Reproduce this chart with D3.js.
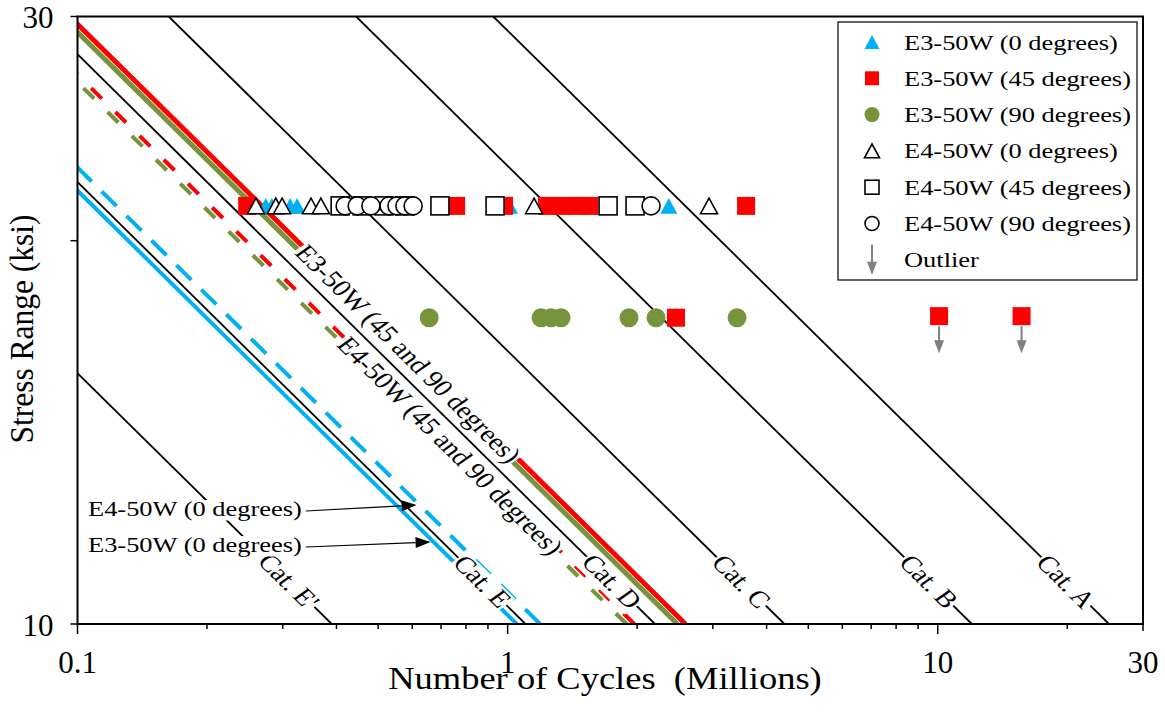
<!DOCTYPE html>
<html>
<head>
<meta charset="utf-8">
<script src="https://cdn.jsdelivr.net/npm/d3@7"></script>
<style>
  html, body { margin: 0; padding: 0; background: #fff; }
  svg { display: block; font-family: "Liberation Serif", "Times New Roman", serif; }
  text { fill: #000; }
</style>
</head>
<body>
<svg id="chart" width="1165" height="717"></svg>
<script>
// ---------------------------------------------------------------------------
// AASHTO detail categories: life (millions of cycles) at a 10 ksi stress range
const categoryNames = ["Cat. A", "Cat. B", "Cat. C", "Cat. D", "Cat. E", "Cat. E'"];
const categoryLife10 = [25, 12, 4.4, 2.2, 1.1, 0.39];
const categoryLabelStress = 10.8;

// Fitted S-N curves of the specimen groups: life (millions) at 10 ksi
const fitNames = ["E3-50W (0 degrees)", "E4-50W (0 degrees)", "E3-50W (45 degrees)",
                  "E3-50W (90 degrees)", "E4-50W (45 degrees)", "E4-50W (90 degrees)"];
const fitLife10 = [1.05, 1.19, 2.59, 2.48, 1.97, 1.89];

// Labels written along the fitted curves
const fitLabels = ["E3-50W (45 and 90 degrees)", "E4-50W (45 and 90 degrees)"];
const fitLabelLife10 = [2.54, 1.93];
const fitLabelStress = [16.3, 13.8];

// Call-outs for the 0-degree curves
const calloutLabels = ["E4-50W (0 degrees)", "E3-50W (0 degrees)"];
const calloutLife10 = [1.19, 1.05];
const calloutStress = [12.4, 11.6];

// Test results: cycles to failure (millions) and stress range (ksi)
const e3d0Cycles  = [0.274, 0.283, 0.312, 0.324, 1.01, 2.37];
const e3d0Stress  = [21.3, 21.3, 21.3, 21.3, 21.3, 21.3];
const e3d45Cycles = [0.248, 0.759, 0.981, 1.235, 1.338, 1.45, 1.547, 3.584, 2.463, 10.07, 15.66];
const e3d45Stress = [21.3, 21.3, 21.3, 21.3, 21.3, 21.3, 21.3, 21.3, 17.4, 17.45, 17.45];
const e3d45Outlier = [false, false, false, false, false, false, false, false, false, true, true];
const e3d90Cycles = [0.657, 1.196, 1.262, 1.331, 1.915, 2.213, 3.415];
const e3d90Stress = [17.4, 17.4, 17.4, 17.4, 17.4, 17.4, 17.4];
const e4d0Cycles  = [0.26, 0.289, 0.299, 0.349, 0.368, 1.152, 2.939];
const e4d0Stress  = [21.3, 21.3, 21.3, 21.3, 21.3, 21.3, 21.3];
const e4d45Cycles = [0.408, 0.459, 0.516, 0.577, 0.696, 0.935, 1.712, 1.978];
const e4d45Stress = [21.3, 21.3, 21.3, 21.3, 21.3, 21.3, 21.3, 21.3];
const e4d90Cycles = [0.419, 0.447, 0.481, 0.53, 0.553, 0.577, 0.603, 2.155];
const e4d90Stress = [21.3, 21.3, 21.3, 21.3, 21.3, 21.3, 21.3, 21.3];

// Axis ticks
const xMajorTicks = [0.1, 1, 10];
const xMinorTicks = [0.2, 0.3, 0.4, 0.5, 0.6, 0.7, 0.8, 0.9, 2, 3, 4, 5, 6, 7, 8, 9, 20, 30];
const xTickLabels = [0.1, 1, 10, 30];
const yTicks = [10, 20, 30];
const yTickLabels = [10, 30];

const legendLabels = ["E3-50W (0 degrees)", "E3-50W (45 degrees)", "E3-50W (90 degrees)",
                      "E4-50W (0 degrees)", "E4-50W (45 degrees)", "E4-50W (90 degrees)", "Outlier"];
// ---------------------------------------------------------------------------

const BLUE = "#00b0f0", RED = "#ff0000", GREEN = "#77933c", GREY = "#808080";

const svg = d3.select("#chart");
const x = d3.scaleLog().domain([0.1, 30]).range([77.5, 1143]);
const y = d3.scaleLog().domain([10, 30]).range([624, 16.5]);
const [x0, x1] = x.range();
const [yb, yt] = y.range();

svg.append("defs").append("clipPath").attr("id", "plotClip")
  .append("rect").attr("x", x0).attr("y", yt).attr("width", x1 - x0).attr("height", yb - yt);

// Slope -3 S-N line: two end points at 10 and 30 ksi
function snEnds(life10) {
  return [[life10, 10], [life10 / 27, 30]];
}
function lifeAt(life10, s) { return life10 * Math.pow(10 / s, 3); }

const line = d3.line().x(d => x(d[0])).y(d => y(d[1]));
const plot = svg.append("g").attr("clip-path", "url(#plotClip)");

// Detail category lines
plot.selectAll("path.cat").data(categoryLife10).join("path")
  .attr("class", "cat").attr("d", d => line(snEnds(d)))
  .attr("fill", "none").attr("stroke", "#000").attr("stroke-width", 1.8);

// Fitted curves
const fitStyle = [
  { color: BLUE,  width: 4,   dash: null },
  { color: BLUE,  width: 4,   dash: "21 14" },
  { color: RED,   width: 5,   dash: null },
  { color: GREEN, width: 5,   dash: null },
  { color: RED,   width: 4,   dash: "15 19" },
  { color: GREEN, width: 4,   dash: "15 19" }
];
plot.selectAll("path.fit").data(fitLife10).join("path")
  .attr("class", "fit").attr("d", d => line(snEnds(d)))
  .attr("fill", "none")
  .attr("stroke", (d, i) => fitStyle[i].color)
  .attr("stroke-width", (d, i) => fitStyle[i].width)
  .attr("stroke-dasharray", (d, i) => fitStyle[i].dash);

// Screen angle of a slope -3 line
const pa = [x(1), y(10)], pb = [x(1 / 27), y(30)];
const lineAngle = Math.atan2(pa[1] - pb[1], pa[0] - pb[0]);

// Text drawn with a horizontal stretch; optional white backing box
function stretchedText(parent, o) {
  const sx = o.sx || 1;
  let rot = 0;
  if (o.along) rot = Math.atan(sx * Math.tan(lineAngle)) * 180 / Math.PI;
  if (o.rotate) rot = o.rotate;
  const g = parent.append("g")
    .attr("transform", `translate(${o.x},${o.y}) scale(${sx},1) rotate(${rot})`);
  const t = g.append("text").attr("font-size", o.size)
    .attr("text-anchor", o.anchor || "start")
    .style("white-space", "pre")
    .text(o.text);
  if (o.dy) t.attr("dy", o.dy);
  if (o.box) {
    const b = t.node().getBBox();
    const shift = o.dy ? o.size * parseFloat(o.dy) : 0;
    g.insert("rect", "text")
      .attr("x", b.x - 1).attr("width", b.width + 2)
      .attr("y", shift - 0.74 * o.size).attr("height", 0.95 * o.size)
      .attr("fill", "#fff");
  }
  return g;
}

// Axis frame and ticks
const axes = svg.append("g");
axes.append("rect").attr("x", x0).attr("y", yt).attr("width", x1 - x0).attr("height", yb - yt)
  .attr("fill", "none").attr("stroke", "#000").attr("stroke-width", 2);
axes.selectAll("line.xmaj").data(xMajorTicks).join("line")
  .attr("x1", d => x(d)).attr("x2", d => x(d)).attr("y1", yb).attr("y2", yb + 10)
  .attr("stroke", "#000").attr("stroke-width", 1.5);
axes.selectAll("line.xmin").data(xMinorTicks).join("line")
  .attr("x1", d => x(d)).attr("x2", d => x(d)).attr("y1", yb).attr("y2", d => yb + (d === 30 ? 7 : 5))
  .attr("stroke", "#000").attr("stroke-width", 1.5);
axes.selectAll("line.ytk").data(yTicks).join("line")
  .attr("x1", x0 - 7).attr("x2", x0).attr("y1", d => y(d)).attr("y2", d => y(d))
  .attr("stroke", "#000").attr("stroke-width", 1.5);
axes.selectAll("text.xl").data(xTickLabels).join("text")
  .attr("x", d => x(d)).attr("y", yb + 49).attr("text-anchor", "middle")
  .attr("font-size", 31).text(d => d);
axes.selectAll("text.yl").data(yTickLabels).join("text")
  .attr("x", x0 - 24).attr("y", d => y(d) + 11.5).attr("text-anchor", "end")
  .attr("font-size", 31).text(d => d);

stretchedText(svg, { x: 605, y: 689, sx: 1.14, size: 32, anchor: "middle",
  text: "Number of Cycles  (Millions)" });
stretchedText(svg, { x: 33, y: 329, sx: 1.1, size: 31.5, anchor: "middle", rotate: -90,
  text: "Stress Range (ksi)" });

// Labels along the lines
const labels = svg.append("g");
categoryNames.forEach((name, i) => {
  const n = lifeAt(categoryLife10[i], categoryLabelStress);
  stretchedText(labels, { x: x(n), y: y(categoryLabelStress), sx: 1.2, along: true,
    size: 24, anchor: "middle", dy: "0.33em", text: name, box: true });
});
fitLabels.forEach((name, i) => {
  const n = lifeAt(fitLabelLife10[i], fitLabelStress[i]);
  stretchedText(labels, { x: x(n), y: y(fitLabelStress[i]), sx: 1.2, along: true,
    size: 24, anchor: "middle", dy: "0.33em", text: name, box: true });
});

// Markers
function triPath(w, h) { return `M0,${-h / 2}L${w / 2},${h / 2}L${-w / 2},${h / 2}Z`; }
function drawMarker(g, shape, cx, cy, size, fill, stroke) {
  let m;
  if (shape === "tri") m = g.append("path").attr("d", triPath(size, size * 0.92)).attr("transform", `translate(${cx},${cy})`);
  else if (shape === "sq") m = g.append("rect").attr("x", cx - size / 2).attr("y", cy - size / 2).attr("width", size).attr("height", size);
  else m = g.append("circle").attr("cx", cx).attr("cy", cy).attr("r", size / 2);
  m.attr("fill", fill);
  if (stroke) m.attr("stroke", stroke).attr("stroke-width", 1.6); else m.attr("stroke", "none");
  return m;
}

const series = [
  { cycles: e3d0Cycles,  stress: e3d0Stress,  shape: "tri",  fill: BLUE,  stroke: null, size: 17 },
  { cycles: e3d45Cycles, stress: e3d45Stress, shape: "sq",   fill: RED,   stroke: null, size: 18 },
  { cycles: e3d90Cycles, stress: e3d90Stress, shape: "circ", fill: GREEN, stroke: null, size: 19 },
  { cycles: e4d0Cycles,  stress: e4d0Stress,  shape: "tri",  fill: "#fff", stroke: "#000", size: 17 },
  { cycles: e4d45Cycles, stress: e4d45Stress, shape: "sq",   fill: "#fff", stroke: "#000", size: 18 },
  { cycles: e4d90Cycles, stress: e4d90Stress, shape: "circ", fill: "#fff", stroke: "#000", size: 18 }
];
const marks = svg.append("g");
series.forEach(s => {
  s.cycles.forEach((c, i) => drawMarker(marks, s.shape, x(c), y(s.stress[i]), s.size, s.fill, s.stroke));
});

// Outlier arrows
function downArrow(g, cx, top, len, head, hw) {
  g.append("line").attr("x1", cx).attr("x2", cx).attr("y1", top).attr("y2", top + len - head + 1)
    .attr("stroke", GREY).attr("stroke-width", 2);
  g.append("path").attr("d", `M${cx - hw / 2},${top + len - head}L${cx + hw / 2},${top + len - head}L${cx},${top + len}Z`)
    .attr("fill", GREY);
}
e3d45Cycles.forEach((c, i) => {
  if (e3d45Outlier[i]) downArrow(marks, x(c), y(e3d45Stress[i]) + 10, 27, 13, 10);
});

// Call-outs for the 0-degree curves
const callouts = svg.append("g");
const calloutTextY = [516, 552];
calloutLabels.forEach((name, i) => {
  const g = stretchedText(callouts, { x: 88, y: calloutTextY[i], sx: 1.23, size: 21.5,
    text: name, box: true });
  const tipX = x(lifeAt(calloutLife10[i], calloutStress[i])) - 3;
  const tipY = y(calloutStress[i]);
  const sxEnd = 88 + g.select("text").node().getBBox().width * 1.23 + 4;
  const syEnd = calloutTextY[i] - 5;
  const ang = Math.atan2(tipY - syEnd, tipX - sxEnd);
  const hl = 15, hw = 5.5;
  const bx = tipX - hl * Math.cos(ang), by = tipY - hl * Math.sin(ang);
  callouts.append("line").attr("x1", sxEnd).attr("y1", syEnd).attr("x2", bx).attr("y2", by)
    .attr("stroke", "#000").attr("stroke-width", 1.2);
  callouts.append("path")
    .attr("d", `M${tipX},${tipY}L${bx - hw * Math.sin(ang)},${by + hw * Math.cos(ang)}L${bx + hw * Math.sin(ang)},${by - hw * Math.cos(ang)}Z`)
    .attr("fill", "#000");
});

// Legend
const legend = svg.append("g");
legend.append("rect").attr("x", 838).attr("y", 22).attr("width", 299).attr("height", 258)
  .attr("fill", "#fff").attr("stroke", "#000").attr("stroke-width", 1.2);
const legendMarkers = [
  { shape: "tri", fill: BLUE, stroke: null, size: 15 },
  { shape: "sq", fill: RED, stroke: null, size: 14 },
  { shape: "circ", fill: GREEN, stroke: null, size: 15 },
  { shape: "tri", fill: "#fff", stroke: "#000", size: 15 },
  { shape: "sq", fill: "#fff", stroke: "#000", size: 14 },
  { shape: "circ", fill: "#fff", stroke: "#000", size: 14 },
  { shape: "arrow" }
];
legendLabels.forEach((name, i) => {
  const cy = 42 + i * 36.3;
  const lm = legendMarkers[i];
  if (lm.shape === "arrow") downArrow(legend, 872, cy - 15, 30, 13, 10);
  else drawMarker(legend, lm.shape, 872, cy, lm.size, lm.fill, lm.stroke);
  stretchedText(legend, { x: 904, y: cy + 7.5, sx: 1.23, size: 21.5, text: name });
});
</script>
</body>
</html>
